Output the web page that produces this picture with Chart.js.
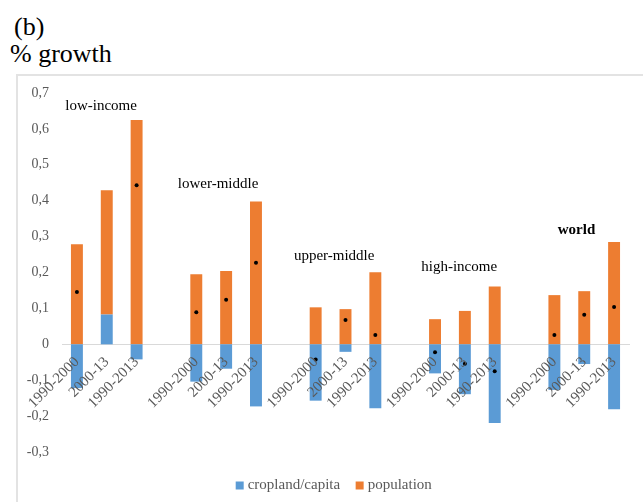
<!DOCTYPE html>
<html>
<head>
<meta charset="utf-8">
<script src="https://cdn.jsdelivr.net/npm/chart.js@4"></script>
<style>
  html, body { margin: 0; padding: 0; background: #fff; }
  body { width: 643px; height: 502px; position: relative; overflow: hidden; font-family: "Liberation Serif", serif; }
  #t1 { position: absolute; left: 14px; top: 12px; font-size: 26px; line-height: 30px; color: #000; }
  #t2 { position: absolute; left: 10px; top: 39px; font-size: 26px; line-height: 30px; color: #000; }
  #box { position: absolute; left: 16px; top: 74px; width: 627px; height: 428px; border-left: 2px solid #e3e3e3; border-top: 2px solid #e3e3e3; box-sizing: border-box; }
  #wrap { position: absolute; left: 0; top: 0; width: 625px; height: 426px; }
</style>
</head>
<body>
<div id="t1">(b)</div>
<div id="t2">% growth</div>
<div id="box"><div id="wrap"><canvas id="c"></canvas></div></div>
<script>
// ---- data ----
const periods = ['1990-2000', '2000-13', '1990-2013'];
const groups = ['low-income', 'lower-middle', 'upper-middle', 'high-income', 'world'];
const categories = [
  '1990-2000', '2000-13', '1990-2013', '',
  '1990-2000', '2000-13', '1990-2013', '',
  '1990-2000', '2000-13', '1990-2013', '',
  '1990-2000', '2000-13', '1990-2013', '',
  '1990-2000', '2000-13', '1990-2013'
];
const croplandPerCapita = [
  -0.122, 0.083, -0.042, null,
  -0.104, -0.068, -0.173, null,
  -0.157, -0.021, -0.178, null,
  -0.081, -0.139, -0.219, null,
  -0.127, -0.055, -0.181
];
const population = [
  0.279, 0.346, 0.625, null,
  0.195, 0.204, 0.398, null,
  0.103, 0.098, 0.201, null,
  0.070, 0.093, 0.161, null,
  0.137, 0.148, 0.285
];
const cropland = [
  0.146, null, 0.443, null,
  0.089, 0.124, 0.227, null,
  -0.042, 0.068, 0.026, null,
  -0.022, -0.054, -0.075, null,
  0.026, 0.082, 0.104
];
const yTicks = [0.7, 0.6, 0.5, 0.4, 0.3, 0.2, 0.1, 0, -0.1, -0.2, -0.3];
// group label anchors (category index, y value)
const groupLabelIndex = [0.81, 4.73, 8.62, 12.81, 16.74];
const groupLabelValue = [0.665, 0.447, 0.247, 0.215, 0.317];
const groupLabelBold = [false, false, false, false, true];

const BLUE = '#5B9BD5';
const ORANGE = '#ED7D31';
const GREY = '#595959';
const FONT = 'Liberation Serif';

Chart.defaults.font.family = FONT;

const groupLabels = {
  id: 'groupLabels',
  afterDatasetsDraw(chart) {
    const ctx = chart.ctx;
    const xs = chart.scales.x, ys = chart.scales.y;
    ctx.save();
    ctx.fillStyle = '#000';
    ctx.textAlign = 'center';
    ctx.textBaseline = 'middle';
    groups.forEach((g, i) => {
      ctx.font = (groupLabelBold[i] ? 'bold ' : '') + '15px "Liberation Serif"';
      ctx.fillText(g, xs.getPixelForValue(groupLabelIndex[i]), ys.getPixelForValue(groupLabelValue[i]));
    });
    ctx.restore();
  }
};

// nudge the legend block to the reference position
const legendShift = {
  id: 'legendShift',
  afterLayout(chart) {
    const lg = chart.legend;
    if (!lg) return;
    lg.left += 12; lg.right += 12;
    lg.top += 7; lg.bottom += 7;
  }
};

function build() {
  new Chart(document.getElementById('c'), {
    type: 'bar',
    data: {
      labels: categories,
      datasets: [
        { label: 'cropland/capita', data: croplandPerCapita, backgroundColor: BLUE, stack: 'bars', order: 1, pointStyle: 'rect' },
        { label: 'population', data: population, backgroundColor: ORANGE, stack: 'bars', order: 1, pointStyle: 'rect' },
        { type: 'line', label: 'cropland', data: cropland, stack: 'dots', order: 0,
          showLine: false, pointRadius: 2, pointHoverRadius: 2, pointBackgroundColor: '#000',
          pointBorderWidth: 0, borderColor: '#000', backgroundColor: '#000' }
      ]
    },
    options: {
      responsive: true,
      maintainAspectRatio: false,
      animation: false,
      events: [],
      layout: { padding: { top: 17, right: 14, left: 0, bottom: 6 } },
      datasets: { bar: { categoryPercentage: 1, barPercentage: 0.4 } },
      scales: {
        x: {
          stacked: true,
          position: { y: 0 },
          grid: { display: false, drawTicks: false },
          border: { display: true, color: '#d9d9d9', width: 1 },
          ticks: {
            z: 1,
            autoSkip: false, minRotation: 45, maxRotation: 45, padding: 9,
            color: GREY, font: { family: FONT, size: 15 }
          }
        },
        y: {
          stacked: true,
          min: -0.3, max: 0.7,
          grid: { display: false, drawTicks: false },
          border: { display: false },
          afterFit(scale) { scale.width = 44; scale.paddingTop = 0; scale.paddingBottom = 0; },
          afterBuildTicks(scale) { scale.ticks = yTicks.map(v => ({ value: v })); },
          ticks: {
            padding: 13,
            color: GREY,
            font: { family: FONT, size: 14 },
            callback: (v) => String(Math.round(v * 10) / 10).replace('.', ',')
          }
        }
      },
      plugins: {
        legend: {
          position: 'bottom',
          labels: {
            filter: (item) => item.datasetIndex !== 2,
            usePointStyle: true,
            boxWidth: 1, boxHeight: 8, padding: 19,
            color: GREY, font: { family: FONT, size: 15 }
          }
        },
        tooltip: { enabled: false }
      }
    },
    plugins: [groupLabels, legendShift]
  });
}
build();
</script>
</body>
</html>
